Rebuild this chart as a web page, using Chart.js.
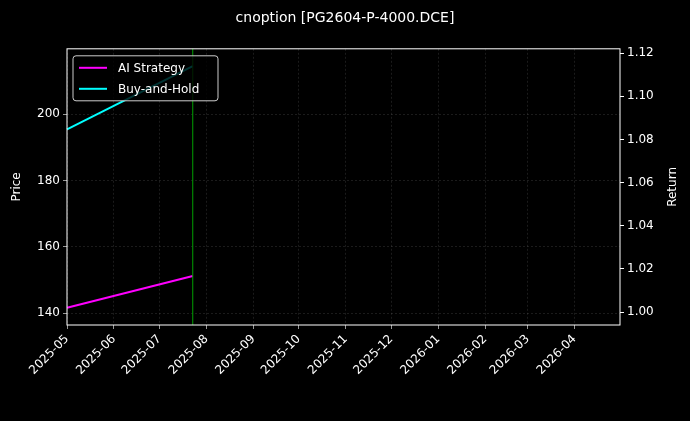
<!DOCTYPE html>
<html>
<head>
<meta charset="utf-8">
<script src="https://cdn.jsdelivr.net/npm/chart.js@4"></script>
<style>
  html, body { margin: 0; padding: 0; background: #000; }
  #wrap { width: 690px; height: 421px; }
</style>
</head>
<body>
<div id="wrap"><canvas id="chart" width="690" height="421"></canvas></div>
<script>
// days counted from 2025-05-01
const tickDays = [0, 31, 61, 92, 123, 153, 184, 214, 245, 276, 304, 335];
const tickLabels = ['2025-05', '2025-06', '2025-07', '2025-08', '2025-09', '2025-10',
  '2025-11', '2025-12', '2026-01', '2026-02', '2026-03', '2026-04'];
const seriesDays = [0, 83];
const aiReturn = [1.002, 1.0167];
const holdReturn = [1.0847, 1.114];
const signalDay = 83;

const gridStyle = { color: 'rgba(150,150,150,0.3)', lineWidth: 0.6, tickColor: '#fff', tickLength: 4 };
const FONT = 'DejaVu Sans';

const frame = {
  id: 'frame',
  beforeDraw(chart) {
    const { ctx, width, height } = chart;
    ctx.fillStyle = '#000';
    ctx.fillRect(0, 0, width, height);
  },
  afterDraw(chart) {
    const { ctx, chartArea: a, scales } = chart;
    ctx.save();
    // signal line
    const x = scales.x.getPixelForValue(signalDay);
    ctx.strokeStyle = '#00a000';
    ctx.lineWidth = 1;
    ctx.beginPath(); ctx.moveTo(x, a.top); ctx.lineTo(x, a.bottom); ctx.stroke();
    // axes frame
    ctx.strokeStyle = '#fff';
    ctx.strokeRect(a.left, a.top, a.right - a.left, a.bottom - a.top);
    // axis titles
    ctx.fillStyle = '#fff';
    ctx.font = '12px ' + FONT;
    ctx.textAlign = 'center';
    ctx.textBaseline = 'middle';
    const cy = (a.top + a.bottom) / 2;
    ctx.save(); ctx.translate(17, cy); ctx.rotate(-Math.PI / 2); ctx.fillText('Price', 0, 0); ctx.restore();
    ctx.save(); ctx.translate(673, cy); ctx.rotate(-Math.PI / 2); ctx.fillText('Return', 0, 0); ctx.restore();
    // legend
    const lx = a.left + 6, ly = a.top + 7;
    ctx.fillStyle = 'rgba(0,0,0,0.8)';
    ctx.strokeStyle = '#ccc';
    ctx.lineWidth = 1;
    ctx.beginPath(); ctx.roundRect(lx, ly, 145, 45, 3); ctx.fill(); ctx.stroke();
    ctx.textAlign = 'left';
    ctx.font = '12px ' + FONT;
    chart.data.datasets.forEach((ds, i) => {
      const y = ly + 12 + i * 21;
      ctx.strokeStyle = ds.borderColor;
      ctx.lineWidth = 2;
      ctx.beginPath(); ctx.moveTo(lx + 6, y); ctx.lineTo(lx + 34, y); ctx.stroke();
      ctx.fillStyle = '#fff';
      ctx.fillText(ds.label, lx + 45, y + 1);
    });
    ctx.restore();
  }
};

new Chart(document.getElementById('chart'), {
  type: 'line',
  data: {
    datasets: [
      {
        label: 'AI Strategy',
        data: seriesDays.map((d, i) => ({ x: d, y: aiReturn[i] })),
        borderColor: '#ff00ff', backgroundColor: '#ff00ff',
        borderWidth: 2, pointRadius: 0, yAxisID: 'y1'
      },
      {
        label: 'Buy-and-Hold',
        data: seriesDays.map((d, i) => ({ x: d, y: holdReturn[i] })),
        borderColor: '#00ffff', backgroundColor: '#00ffff',
        borderWidth: 2, pointRadius: 0, yAxisID: 'y1'
      }
    ]
  },
  options: {
    responsive: false,
    animation: false,
    clip: false,
    layout: { padding: { top: 2, right: 0, left: 0, bottom: 0 } },
    plugins: {
      title: {
        display: true, text: 'cnoption [PG2604-P-4000.DCE]', color: '#fff',
        font: { family: FONT, size: 14, weight: 'normal' },
        padding: { top: 8, bottom: 22 }
      },
      legend: { display: false },
      tooltip: { enabled: false }
    },
    scales: {
      x: {
        type: 'linear', min: 0, max: 365,
        grid: { ...gridStyle },
        border: { display: false, dash: [2, 2] },
        afterBuildTicks: s => { s.ticks = tickDays.map(v => ({ value: v })); },
        afterFit: s => { s.height = 96; },
        ticks: {
          color: '#fff', minRotation: 45, maxRotation: 45, autoSkip: false,
          font: { family: FONT, size: 12 },
          callback: v => tickLabels[tickDays.indexOf(v)]
        }
      },
      y: {
        position: 'left', min: 136.4, max: 219.7,
        grid: { ...gridStyle },
        border: { display: false, dash: [2, 2] },
        afterBuildTicks: s => { s.ticks = [140, 160, 180, 200].map(v => ({ value: v })); },
        afterFit: s => { s.width = 67; },
        ticks: { color: '#fff', font: { family: FONT, size: 12 } }
      },
      y1: {
        position: 'right', min: 0.994, max: 1.122,
        grid: { drawOnChartArea: false, tickColor: '#fff', tickLength: 4 },
        border: { display: false },
        afterBuildTicks: s => { s.ticks = [1.00, 1.02, 1.04, 1.06, 1.08, 1.10, 1.12].map(v => ({ value: v })); },
        afterFit: s => { s.width = 70; },
        ticks: { color: '#fff', font: { family: FONT, size: 12 }, callback: v => v.toFixed(2) }
      }
    }
  },
  plugins: [frame]
});
</script>
</body>
</html>
